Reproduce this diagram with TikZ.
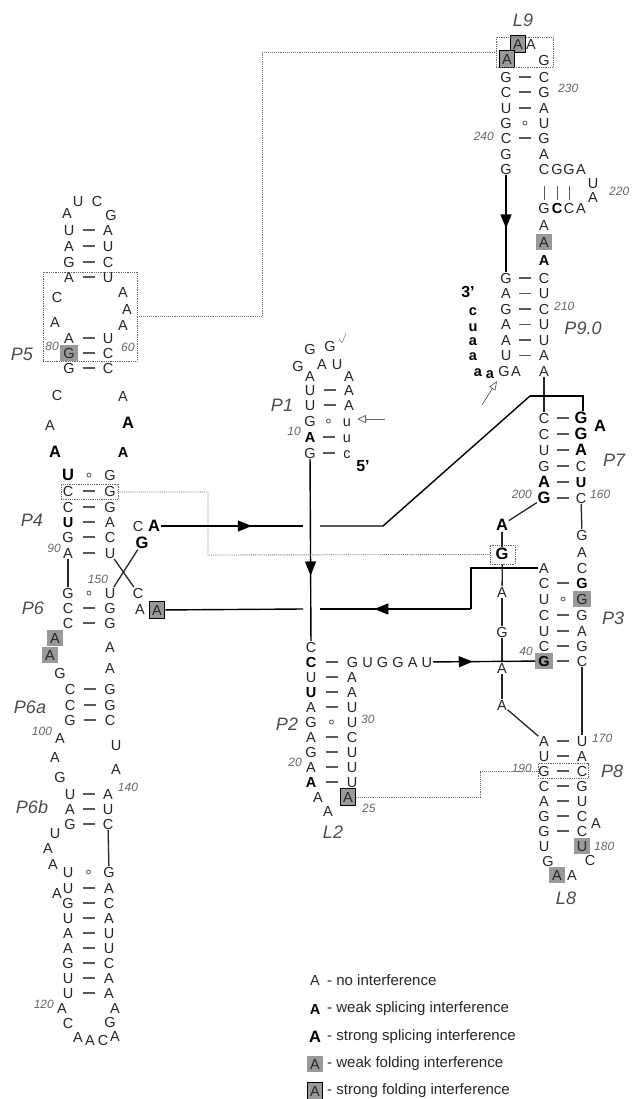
\documentclass[tikz,border=0pt]{standalone}
\usepackage{fontspec}
\setmainfont{Liberation Sans}
\usetikzlibrary{calc,arrows.meta,decorations.markings}
\definecolor{foldgray}{gray}{0.6}
\definecolor{numgray}{gray}{0.4}
\definecolor{lblgray}{gray}{0.3}
\definecolor{ntcol}{gray}{0.15}
\tikzset{
 nt/.style={inner sep=0.6pt, font=\fontsize{14.5}{15}\selectfont, text=ntcol, text height=10.4pt, text depth=0pt},
 ws/.style={font=\fontsize{14.5}{15}\selectfont\bfseries, text=black},
 ss/.style={font=\fontsize{16.5}{17}\selectfont\bfseries, text=black, text height=11.8pt},
 wf/.style={fill=foldgray, inner sep=3pt},
 sf/.style={fill=foldgray, draw=black, line width=1pt, inner sep=3pt},
 strand/.style={line width=1.3pt, draw=black!85},
 pairln/.style={line width=1.2pt, draw=black!65},
 num/.style={font=\fontsize{12}{12}\itshape\selectfont, text=numgray, inner sep=0pt},
 lbl/.style={font=\fontsize{18}{18}\itshape\selectfont, text=lblgray, inner sep=0pt},
 dotbox/.style={draw=black!60, densely dotted, line width=0.8pt, inner sep=0pt},
 dotln/.style={draw=black!55, densely dotted, line width=0.9pt},
 conn/.style={line width=1.4pt, draw=black},
 leg/.style={font=\fontsize{15}{15}\selectfont, text=black!85, inner sep=0pt, anchor=west},
 midarrow/.style={postaction={decorate}, decoration={markings, mark=at position #1 with {\arrow{Triangle[length=14pt,width=11pt]}}}},
}
\newcommand\Nt[5][]{\node[nt,#1] (#2) at (#3,#4) {#5};}
\newcommand\Pd[2]{\draw[pairln] ($(#1)!0.5!(#2)$) +(-6,0) -- +(6,0);}
\newcommand\Pw[2]{\draw[pairln, line width=0.8pt] ($(#1)!0.5!(#2)$) circle (2pt);}
\begin{document}
\begin{tikzpicture}[x=1pt,y=-1pt]
\fill[white] (0,0) rectangle (635,1099);
\useasboundingbox (0,0) rectangle (635,1099);

%================ L9 / P9
\node[lbl] (L9lab) at (523,20) {L9};
\Nt[sf]{l9b}{518}{44}{A}
\Nt[sf]{l9a}{507}{59}{A}
\Nt{l9c}{531}{44}{A}
\Nt{l9d}{544}{60}{G}
\node[dotbox, minimum width=57pt, minimum height=30pt] (L9box) at (524.5,52) {};
\Nt{p9a1}{506}{77}{G}\Nt{p9b1}{544}{77}{C}\Pd{p9a1}{p9b1}
\Nt{p9a2}{506}{92}{C}\Nt{p9b2}{544}{92}{G}\Pd{p9a2}{p9b2}
\Nt{p9a3}{506}{108}{U}\Nt{p9b3}{544}{108}{A}\Pd{p9a3}{p9b3}
\Nt{p9a4}{506}{123}{G}\Nt{p9b4}{544}{123}{U}\Pw{p9a4}{p9b4}
\Nt{p9a5}{506}{138}{C}\Nt{p9b5}{544}{138}{G}\Pd{p9a5}{p9b5}
\Nt{p9a6}{506}{154}{G}\Nt{p9b6}{544}{154}{A}
\Nt{p9a7}{506}{169}{G}\Nt{p9b7}{544}{169}{C}
\node[num,anchor=west] (n230) at (558,88) {230};
\node[num,anchor=east] (n240) at (494,136) {240};
\Nt{h1}{557}{169}{G}\Nt{h2}{569}{169}{G}\Nt{h3}{581}{169}{A}
\Nt{h4}{593}{183}{U}\Nt{h5}{593}{197}{A}
\Nt{h9}{544}{208}{G}\Nt[ws]{h7}{557}{208}{C}\Nt{h8}{569}{208}{C}\Nt{h6}{581}{208}{A}
\node[num,anchor=west] (n220) at (609,191) {220};
\draw[pairln, line width=1pt, shorten <=11pt, shorten >=2pt] (p9b7) -- (h9);
\draw[pairln, line width=1pt, shorten <=11pt, shorten >=2pt] (h1) -- (h7);
\draw[pairln, line width=1pt, shorten <=11pt, shorten >=2pt] (h2) -- (h8);
\Nt{a225}{544}{225}{A}
\Nt[wf]{a242}{544}{242}{A}
\Nt[ws]{a260}{544}{260}{A}

%================ P9.0
\Nt{q1}{506}{278}{G}\Nt{r1}{544}{278}{C}\Pd{q1}{r1}
\Nt{q2}{506}{293.5}{A}\Nt{r2}{544}{293.5}{U}\Pd{q2}{r2}
\Nt{q3}{506}{309}{G}\Nt{r3}{544}{309}{C}\Pd{q3}{r3}
\Nt{q4}{506}{324.5}{A}\Nt{r4}{544}{324.5}{U}\Pd{q4}{r4}
\Nt{q5}{506}{340}{A}\Nt{r5}{544}{340}{U}\Pd{q5}{r5}
\Nt{q6}{506}{355.5}{U}\Nt{r6}{544}{355.5}{A}\Pd{q6}{r6}
\Nt{q7}{504}{371}{G}\Nt{q7b}{516}{371}{A}\Nt{r7}{544}{371}{A}
\node[num,anchor=west] (n210) at (554,306) {210};
\node[lbl] (P90) at (583,328) {P9.0};
\node[font=\fontsize{16}{16}\bfseries\selectfont, inner sep=0pt] (three) at (468,292) {3'};
\Nt[ws]{t1}{473}{310}{c}
\Nt[ws]{t2}{473}{326}{u}
\Nt[ws]{t3}{473}{340}{a}
\Nt[ws]{t4}{473}{355}{a}
\Nt[ws]{t5}{478}{371}{a}
\Nt[ws]{t6}{490}{373}{a}
\coordinate (sa1) at (482,405);
\coordinate (sa2) at (497,381);
\draw[line width=0.6pt, black!70, -{Triangle[open,length=9pt,width=7pt]}] (sa1) -- (sa2);
\draw[conn, midarrow=0.55] (p9a7) -- (q1);

%================ P7
\Nt{s1}{544}{418}{C}\Nt[ss]{u1}{581}{418}{G}\Pd{s1}{u1}
\Nt[ss]{p7x}{600}{426}{A}
\Nt{s2}{544}{434}{C}\Nt[ss]{u2}{581}{434}{G}\Pd{s2}{u2}
\Nt{s3}{544}{450}{U}\Nt[ss]{u3}{581}{450}{A}\Pd{s3}{u3}
\Nt{s4}{544}{466}{G}\Nt{u4}{581}{466}{C}\Pd{s4}{u4}
\Nt[ss]{s5}{544}{482}{A}\Nt[ws]{u5}{581}{482}{U}\Pd{s5}{u5}
\Nt[ss]{s6}{544}{498}{G}\Nt{u6}{581}{498}{C}\Pd{s6}{u6}
\node[lbl] (P7) at (614,460) {P7};
\node[num,anchor=east] (n200) at (532,494) {200};
\node[num,anchor=west] (n160) at (590,494) {160};
\draw[strand] (r7) -- (s1);
\coordinate (j1) at (530,396);
\coordinate (j2) at (583,396);
\draw[conn] (j1) -- (j2) -- (j2 |- u1.north);

\Nt[ss]{v1}{502}{525}{A}
\Nt[ss]{v2}{502}{554}{G}
\node[dotbox, minimum width=25pt, minimum height=19pt] (Gbox) at (502.5,554.5) {};
\Nt{v3}{502}{592}{A}\Nt{v4}{502}{632}{G}\Nt{v5}{502}{668}{A}\Nt{v6}{502}{705}{A}
\draw[strand] (s6) -- (v1);
\draw[strand] (v1) -- (v2);
\draw[strand] (Gbox) -- (v3);
\draw[strand] (v3) -- (v4);
\draw[strand] (v4) -- (v5);
\draw[strand] (v5) -- (v6);

\Nt{w1}{582}{535}{G}\Nt{w2}{582}{552}{A}\Nt{w3}{582}{568}{C}
\draw[strand] (u6) -- (w1);
\Nt{x0}{544}{568}{A}

%================ P3
\Nt{x1}{544}{583}{C}\Nt[ws]{y1}{582}{583}{G}\Pd{x1}{y1}
\Nt{x2}{544}{599}{U}\Nt[wf]{y2}{582}{599}{G}\Pw{x2}{y2}
\Nt{x3}{544}{615}{C}\Nt{y3}{582}{615}{G}\Pd{x3}{y3}
\Nt{x4}{544}{631}{U}\Nt{y4}{582}{631}{A}\Pd{x4}{y4}
\Nt{x5}{544}{646}{C}\Nt{y5}{582}{646}{G}\Pd{x5}{y5}
\Nt[ws,wf]{x6}{544}{661}{G}\Nt{y6}{582}{661}{C}\Pd{x6}{y6}
\node[lbl] (P3) at (613,618) {P3};
\node[num,anchor=east] (n40) at (533,651) {40};

%================ P8 / L8
\Nt{z1}{544}{741}{A}\Nt{zz1}{582}{741}{U}\Pd{z1}{zz1}
\node[num,anchor=west] (n170) at (592,738) {170};
\Nt{z2}{544}{756}{U}\Nt{zz2}{582}{756}{A}\Pd{z2}{zz2}
\Nt{z3}{544}{771}{G}\Nt{zz3}{582}{771}{C}\Pd{z3}{zz3}
\node[dotbox, minimum width=50pt, minimum height=15pt] (P8box) at (563,771) {};
\node[num,anchor=east] (n190) at (532,768) {190};
\node[lbl] (P8) at (612,771) {P8};
\Nt{z4}{544}{786}{C}\Nt{zz4}{582}{786}{G}\Pd{z4}{zz4}
\Nt{z5}{544}{801}{A}\Nt{zz5}{582}{801}{U}\Pd{z5}{zz5}
\Nt{z6}{544}{816}{G}\Nt{zz6}{582}{816}{C}\Pd{z6}{zz6}
\Nt{z7}{544}{831}{G}\Nt{zz7}{582}{831}{C}\Pd{z7}{zz7}
\Nt{zl1}{596}{823}{A}
\Nt{z8}{544}{846}{U}\Nt[wf]{zz8}{582}{846}{U}
\node[num,anchor=west] (n180) at (594,846) {180};
\Nt{z9}{548}{861}{G}\Nt{zz9}{590}{860}{C}
\Nt[wf]{zl2}{557}{875}{A}\Nt{zl3}{572}{875}{A}
\node[lbl] (L8) at (566,898) {L8};
\draw[strand] (y6) -- (zz1);
\draw[strand] (v6) -- (z1);

%================ P1
\Nt{o1}{310}{349}{G}\Nt{o2}{330}{346}{G}
\draw[black!45, line width=0.6pt] (339,339) -- (342,343) -- (346,333);
\Nt{o3}{298}{366}{G}\Nt{o4}{322}{364}{A}\Nt{o5}{337}{364}{U}
\Nt{p1a0}{310}{376}{A}\Nt{p1b0}{349}{376}{A}
\Nt{p1a1}{310}{390}{U}\Nt{p1b1}{349}{390}{A}\Pd{p1a1}{p1b1}
\Nt{p1a2}{310}{405}{U}\Nt{p1b2}{349}{405}{A}\Pd{p1a2}{p1b2}
\Nt{p1a3}{310}{421}{G}\Nt{p1b3}{347}{421}{u}\Pw{p1a3}{p1b3}
\Nt[ws]{p1a4}{310}{437}{A}\Nt{p1b4}{347}{437}{u}\Pd{p1a4}{p1b4}
\Nt{p1a5}{310}{453}{G}\Nt{p1b5}{347}{453}{c}\Pd{p1a5}{p1b5}
\node[lbl] (P1) at (282,405) {P1};
\node[num,anchor=east] (n10) at (301,431) {10};
\node[font=\fontsize{16}{16}\bfseries\selectfont, inner sep=0pt] (five) at (363,466) {5'};
\coordinate (pa1) at (357,419);
\coordinate (pa2) at (385,419);
\draw[line width=0.8pt, black!60, -{Triangle[open,length=9pt,width=8pt]}] (pa2) -- (pa1);

%================ P2 / L2
\Nt{c0}{311}{647}{C}
\Nt[ws]{c1}{311}{662}{C}
\Nt{g1}{352.6}{662}{G}\Nt{g2}{367.6}{662}{U}\Nt{g3}{382.6}{662}{G}\Nt{g4}{398}{662}{G}\Nt{g5}{412.6}{662}{A}\Nt{g6}{426.8}{662}{U}
\Pd{c1}{g1}
\Nt{c2}{311}{677}{U}\Nt{d2}{352}{677}{A}\Pd{c2}{d2}
\Nt[ws]{c3}{311}{692}{U}\Nt{d3}{352}{692}{A}\Pd{c3}{d3}
\Nt{c4}{311}{707}{A}\Nt{d4}{352}{707}{U}\Pd{c4}{d4}
\Nt{c5}{311}{722}{G}\Nt{d5}{352}{722}{U}\Pw{c5}{d5}
\node[num,anchor=west] (n30) at (361,719) {30};
\node[lbl] (P2) at (287,724) {P2};
\Nt{c6}{311}{737}{A}\Nt{d6}{352}{737}{C}\Pd{c6}{d6}
\Nt{c7}{311}{752}{G}\Nt{d7}{352}{752}{U}\Pd{c7}{d7}
\Nt{c8}{311}{767}{A}\Nt{d8}{352}{767}{U}\Pd{c8}{d8}
\node[num,anchor=east] (n20) at (302,762) {20};
\Nt[ws]{c9}{311}{782}{A}\Nt{d9}{352}{782}{U}\Pd{c9}{d9}
\Nt{c10}{318}{797}{A}\Nt[sf]{d10}{348}{797}{A}
\Nt{c11}{328}{811}{A}
\node[num,anchor=west] (n25) at (362,808) {25};
\node[lbl] (L2) at (333,832) {L2};
\coordinate (dl1) at (480,797);
\coordinate (dl2) at (480,771);
\draw[dotln] (d10) -- (dl1) -- (dl2) -- (P8box);

\draw[conn, midarrow=0.64] (p1a5) -- (c0);

%================ P5
\Nt{p5u}{78}{201}{U}\Nt{p5c}{97}{201}{C}\Nt{p5a}{67}{213}{A}\Nt{p5g}{111}{215}{G}
\Nt{f1}{69}{230}{U}\Nt{ff1}{108}{230}{A}\Pd{f1}{ff1}
\Nt{f2}{69}{246}{A}\Nt{ff2}{108}{246}{U}\Pd{f2}{ff2}
\Nt{f3}{69}{262}{G}\Nt{ff3}{108}{262}{C}\Pd{f3}{ff3}
\Nt{f4}{69}{277}{A}\Nt{ff4}{108}{277}{U}\Pd{f4}{ff4}
\Nt{fb1}{57}{297}{C}\Nt{fb2}{55}{322}{A}
\Nt{fc1}{123}{292}{A}\Nt{fc2}{127}{309}{A}\Nt{fc3}{123}{325}{A}
\Nt{f5}{69}{338}{A}\Nt{ff5}{108}{338}{U}\Pd{f5}{ff5}
\Nt[wf]{f6}{69}{353}{G}\Nt{ff6}{108}{353}{C}\Pd{f6}{ff6}
\Nt{f7}{69}{368}{G}\Nt{ff7}{108}{368}{C}\Pd{f7}{ff7}
\node[num,anchor=west] (n60) at (121,347) {60};
\node[num,anchor=east] (n80) at (59,346) {80};
\node[lbl] (P5) at (22,354) {P5};
\node[dotbox, minimum width=94pt, minimum height=89pt] (P5box) at (90,316.5) {};
\draw[dotln] (P5box.east) -- ++(125,0) |- (L9box.west);
\Nt{fd1}{57}{395}{C}\Nt{fe1}{123}{396}{A}
\Nt{fd2}{50}{425}{A}\Nt[ss]{fe2}{128}{423}{A}
\Nt[ss]{fd3}{55}{452}{A}\Nt[ws]{fe3}{123}{452}{A}

%================ P4
\Nt[ss]{e1}{68}{475}{U}\Nt{ee1}{110}{475}{G}\Pw{e1}{ee1}
\Nt{e2}{68}{491}{C}\Nt{ee2}{110}{491}{G}\Pd{e2}{ee2}
\node[dotbox, minimum width=57pt, minimum height=15pt] (P4box) at (89.5,492) {};
\Nt{e3}{68}{507}{C}\Nt{ee3}{110}{507}{G}\Pd{e3}{ee3}
\Nt[ws]{e4}{68}{522}{U}\Nt{ee4}{110}{522}{A}\Pd{e4}{ee4}
\Nt{e5}{68}{537}{G}\Nt{ee5}{110}{537}{C}\Pd{e5}{ee5}
\Nt{e6}{68}{553}{A}\Nt{ee6}{110}{553}{U}\Pd{e6}{ee6}
\node[num,anchor=east] (n90) at (61,548) {90};
\node[lbl] (P4) at (32,520) {P4};
\Nt{p4C}{138}{526}{C}\Nt[ss]{p4A}{154}{526}{A}\Nt[ss]{p4G}{142}{543}{G}
\node[num] (n150) at (98,579) {150};
\coordinate (dq1) at (208,492);
\coordinate (dq2) at (208,555);
\draw[dotln] (P4box.east) -- (dq1) -- (dq2) -- (Gbox.west);
\coordinate (m1) at (303,526);
\coordinate (m2) at (320,526);
\coordinate (m3) at (383,526);
\draw[conn, midarrow=0.64] (p4A) -- (m1);
\draw[conn] (m2) -- (m3) -- (j1);

%================ P6
\Nt{k1}{68}{593}{G}\Nt{kk1}{110}{593}{U}\Pw{k1}{kk1}
\Nt{k2}{68}{608}{C}\Nt{kk2}{110}{608}{G}\Pd{k2}{kk2}
\Nt{k3}{68}{623}{C}\Nt{kk3}{110}{623}{G}\Pd{k3}{kk3}
\node[lbl] (P6) at (33,608) {P6};
\Nt{p6c}{138}{593}{C}\Nt{p6a}{140}{609}{A}\Nt[sf]{p6A}{157}{610}{A}
\draw[strand] (e6) -- (k1);
\draw[strand] (ee6) -- (p6c);
\draw[strand] (p4G) -- (kk1);
\coordinate (L1) at (471,568);
\coordinate (L2c) at (471,609);
\coordinate (L3) at (320,609);
\coordinate (L4) at (303,609);
\draw[conn] (x0) -- (L1) -- (L2c);
\draw[conn, midarrow=0.64] (L2c) -- (L3);
\draw[conn] (L4) -- (p6A);
\draw[conn, midarrow=0.39] (g6) -- (x6);

%================ P6a / P6b
\Nt[wf]{i1}{55}{638}{A}\Nt[wf]{i2}{50}{655}{A}
\Nt{ii1}{110}{647}{A}\Nt{ii2}{110}{668}{A}
\Nt{i3}{60}{673}{G}
\Nt{b1}{70}{689}{C}\Nt{bb1}{110}{689}{G}\Pd{b1}{bb1}
\Nt{b2}{70}{705}{C}\Nt{bb2}{110}{705}{G}\Pd{b2}{bb2}
\Nt{b3}{70}{720}{G}\Nt{bb3}{110}{720}{C}\Pd{b3}{bb3}
\node[lbl] (P6a) at (30,707) {P6a};
\node[num] (n100) at (42,731) {100};
\Nt{i4}{60}{738}{A}\Nt{i5}{55}{757}{A}\Nt{i6}{60}{777}{G}
\Nt{ii3}{116}{745}{U}\Nt{ii4}{116}{769}{A}
\Nt{d1l}{70}{794}{U}\Nt{d1r}{108}{794}{A}\Pd{d1l}{d1r}
\Nt{d2l}{70}{809}{A}\Nt{d2r}{108}{809}{U}\Pd{d2l}{d2r}
\Nt{d3l}{70}{824}{G}\Nt{d3r}{108}{824}{C}\Pd{d3l}{d3r}
\node[num] (n140) at (128,787) {140};
\node[lbl] (P6b) at (32,807) {P6b};
\Nt{i7}{55}{833}{U}\Nt{i8}{48}{848}{A}\Nt{i9}{53}{864}{A}
\Nt{e7l}{68}{872}{U}\Nt{e7r}{109}{872}{G}\Pw{e7l}{e7r}
\draw[strand] (d3r) -- (e7r);
\Nt{e8l}{68}{888}{U}\Nt{e8r}{109}{888}{A}\Pd{e8l}{e8r}
\Nt{i10}{57}{893}{A}
\Nt{e9l}{68}{903}{G}\Nt{e9r}{109}{903}{C}\Pd{e9l}{e9r}
\Nt{e10l}{68}{918}{U}\Nt{e10r}{109}{918}{A}\Pd{e10l}{e10r}
\Nt{e11l}{68}{933}{A}\Nt{e11r}{109}{933}{U}\Pd{e11l}{e11r}
\Nt{e12l}{68}{948}{A}\Nt{e12r}{109}{948}{U}\Pd{e12l}{e12r}
\Nt{e13l}{68}{963}{G}\Nt{e13r}{109}{963}{C}\Pd{e13l}{e13r}
\Nt{e14l}{68}{978}{U}\Nt{e14r}{109}{978}{A}\Pd{e14l}{e14r}
\Nt{e15l}{68}{993}{U}\Nt{e15r}{109}{993}{A}\Pd{e15l}{e15r}
\Nt{lp1}{62}{1008}{A}\Nt{lp6}{115}{1008}{A}
\node[num,anchor=east] (n120) at (54,1004) {120};
\Nt{lp2}{68}{1023}{C}\Nt{lp5}{110}{1022}{G}
\Nt{lp3}{78}{1037}{A}\Nt{lp3b}{90}{1040}{A}\Nt{lp4}{103}{1040}{C}\Nt{lp4b}{115}{1036}{A}

%================ legend
\Nt{lg1}{315}{980}{A}
\node[leg] (lt1) at (327,980) {- no interference};
\Nt[ws]{lg2}{315}{1009}{A}
\node[leg] (lt2) at (327,1009) {- weak splicing interference};
\Nt[ss]{lg3}{315}{1037}{A}
\node[leg] (lt3) at (327,1037) {- strong splicing interference};
\Nt[wf]{lg4}{315}{1064}{A}
\node[leg] (lt4) at (327,1064) {- weak folding interference};
\Nt[sf]{lg5}{315}{1091}{A}
\node[leg] (lt5) at (327,1091) {- strong folding interference};
\end{tikzpicture}
\end{document}
